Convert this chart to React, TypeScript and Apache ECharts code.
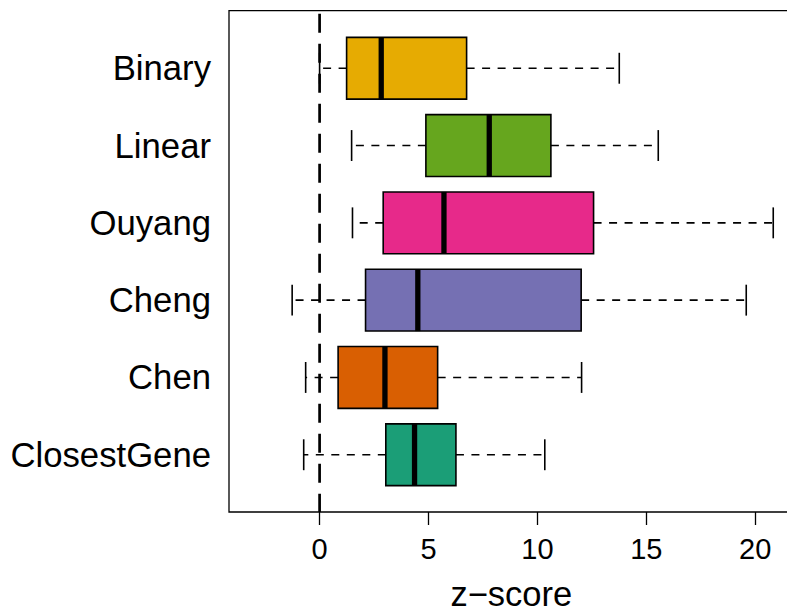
import React, { useEffect, useRef } from 'react';
import * as echarts from 'echarts';

// Data (bottom to top, as drawn on the category axis)
const categories = ['ClosestGene', 'Chen', 'Cheng', 'Ouyang', 'Linear', 'Binary'];
const whiskerLow = [-0.73, -0.64, -1.26, 1.51, 1.47, 0.0];
const quartile1 = [3.04, 0.85, 2.11, 2.92, 4.88, 1.24];
const median = [4.36, 3.0, 4.51, 5.71, 7.79, 2.83];
const quartile3 = [6.26, 5.42, 12.01, 12.58, 10.62, 6.75];
const whiskerHigh = [10.34, 12.03, 19.59, 20.83, 15.55, 13.76];
const boxColors = ['#1B9E77', '#D95F02', '#7570B3', '#E7298A', '#66A61E', '#E6AB02'];
const xTicks = [0, 5, 10, 15, 20];
const referenceLine = [0];
const xMin = -4.16;
const xMax = 21.76;
const yMin = 0.26;
const yMax = 6.74;

const FONT = 'Liberation Sans, Arial, Helvetica, sans-serif';

export default function App() {
  const ref = useRef<HTMLDivElement>(null);

  useEffect(() => {
    if (!ref.current) return;
    const chart = echarts.init(ref.current, null, { renderer: 'svg' });

    const boxData = categories.map((c, i) => [
      c,
      whiskerLow[i],
      quartile1[i],
      median[i],
      quartile3[i],
      whiskerHigh[i],
    ]);

    const option: any = {
      animation: false,
      backgroundColor: '#ffffff',
      grid: [
        {
          left: 229,
          top: 10.7,
          width: 564.5,
          height: 501.3,
          show: true,
          borderColor: '#000',
          borderWidth: 1.3,
          backgroundColor: 'transparent',
          containLabel: false,
          outerBoundsMode: 'none',
        },
        {
          left: 229,
          top: 29.6,
          width: 564.5,
          height: 463.8,
          containLabel: false,
          outerBoundsMode: 'none',
        },
      ],
      xAxis: [
        {
          gridIndex: 0,
          type: 'value',
          min: xMin,
          max: xMax,
          axisLine: { show: false },
          splitLine: { show: false },
          axisTick: {
            show: true,
            customValues: xTicks,
            length: 13,
            lineStyle: { color: '#000', width: 1.3 },
          },
          axisLabel: {
            show: true,
            customValues: xTicks,
            fontSize: 29,
            fontFamily: FONT,
            color: '#000',
            margin: 22,
          },
          name: 'z\u2212score',
          nameLocation: 'middle',
          nameGap: 68,
          nameTextStyle: {
            fontSize: 34.5,
            fontFamily: FONT,
            color: '#000',
            lineHeight: 28,
            verticalAlign: 'top',
          },
        },
        {
          gridIndex: 1,
          type: 'value',
          min: xMin,
          max: xMax,
          show: false,
        },
      ],
      yAxis: [
        {
          gridIndex: 0,
          type: 'value',
          min: yMin,
          max: yMax,
          show: false,
        },
        {
          gridIndex: 1,
          type: 'category',
          data: categories,
          axisLine: { show: false },
          axisTick: { show: false },
          splitLine: { show: false },
          axisLabel: {
            fontSize: 34.7,
            fontFamily: FONT,
            color: '#000',
            margin: 18,
          },
        },
      ],
      series: [
        {
          type: 'custom',
          xAxisIndex: 1,
          yAxisIndex: 1,
          encode: { y: 0, x: [1, 2, 3, 4, 5] },
          data: boxData,
          z: 2,
          clip: false,
          renderItem: (params: any, api: any) => {
            const cat = api.value(0);
            const lo = api.coord([api.value(1), cat]);
            const q1 = api.coord([api.value(2), cat]);
            const md = api.coord([api.value(3), cat]);
            const q3 = api.coord([api.value(4), cat]);
            const hi = api.coord([api.value(5), cat]);
            const band = api.size([0, 1])[1];
            const half = band * 0.4;
            const capHalf = half * 0.5;
            const cy = lo[1];
            const color = boxColors[params.dataIndex];
            const thin = 1.6;
            return {
              type: 'group',
              children: [
                {
                  type: 'line',
                  shape: { x1: q1[0], y1: cy, x2: lo[0], y2: cy },
                  style: { stroke: '#000', lineWidth: thin, lineDash: [8, 7.5] },
                },
                {
                  type: 'line',
                  shape: { x1: q3[0], y1: cy, x2: hi[0], y2: cy },
                  style: { stroke: '#000', lineWidth: thin, lineDash: [8, 7.5] },
                },
                {
                  type: 'line',
                  shape: { x1: lo[0], y1: cy - capHalf, x2: lo[0], y2: cy + capHalf },
                  style: { stroke: '#000', lineWidth: thin },
                },
                {
                  type: 'line',
                  shape: { x1: hi[0], y1: cy - capHalf, x2: hi[0], y2: cy + capHalf },
                  style: { stroke: '#000', lineWidth: thin },
                },
                {
                  type: 'rect',
                  shape: { x: q1[0], y: cy - half, width: q3[0] - q1[0], height: half * 2 },
                  style: { fill: color, stroke: '#000', lineWidth: thin },
                },
                {
                  type: 'line',
                  shape: { x1: md[0], y1: cy - half, x2: md[0], y2: cy + half },
                  style: { stroke: '#000', lineWidth: 5.3 },
                },
              ],
            };
          },
        },
        {
          type: 'custom',
          xAxisIndex: 0,
          yAxisIndex: 0,
          encode: { x: 0 },
          data: referenceLine.map((v) => [v]),
          z: 5,
          renderItem: (params: any, api: any) => {
            const top = api.coord([api.value(0), yMax]);
            const bottom = api.coord([api.value(0), yMin]);
            return {
              type: 'line',
              shape: { x1: top[0], y1: top[1], x2: bottom[0], y2: bottom[1] },
              style: {
                stroke: '#000',
                lineWidth: 2.7,
                lineDash: [19, 11],
                lineDashOffset: 27.4,
              },
            };
          },
        },
      ],
    };

    chart.setOption(option);
    return () => {
      chart.dispose();
    };
  }, []);

  return (
    <div
      ref={ref}
      style={{ position: 'absolute', left: 0, top: 0, width: 787, height: 612, background: '#fff' }}
    />
  );
}
